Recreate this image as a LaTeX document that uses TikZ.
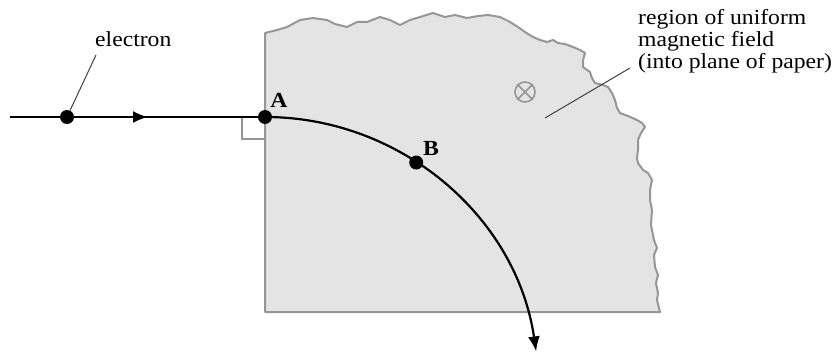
\documentclass[tikz,border=0pt]{standalone}
\usepackage{fontspec}
\setmainfont[FakeStretch=1.1]{Liberation Serif}
\usetikzlibrary{arrows.meta,calc}
\definecolor{edgegray}{RGB}{150,150,150}
\definecolor{fillgray}{RGB}{228,228,228}
\tikzset{
  region/.style={draw=edgegray, fill=fillgray, line width=2pt, line join=round},
  path/.style={line width=2.2pt, black},
  dot/.style={circle, fill=black, inner sep=0pt, minimum size=14pt},
  lbl/.style={font=\fontsize{21.5}{21.5}\selectfont, inner sep=0pt},
  ptlbl/.style={font=\fontsize{21.5}{21.5}\selectfont\bfseries, inner sep=0pt},
  leader/.style={line width=1pt, black!75},
  tip/.style={-{Latex[length=15pt,width=12pt]}}
}
\begin{document}
\begin{tikzpicture}[x=1pt,y=-1pt]
\useasboundingbox (0,0) rectangle (837,353);
% region
\draw[region] (265,312) -- (265,33) -- (277,30) -- (287,27) -- (300,20) -- (313,18) -- (327,20) -- (335,24) -- (347,27) -- (357,22) -- (367,22) -- (380,17) -- (390,20) -- (400,25) -- (410,20) -- (420,17) -- (433,13) -- (445,17) -- (455,15) -- (467,18) -- (478,16) -- (488,15) -- (500,17) -- (510,22) -- (518,27) -- (525,32) -- (533,37) -- (540,40) -- (547,42) -- (553,40) -- (558,43) -- (565,44) -- (573,47) -- (580,50) -- (585,53) -- (583,60) -- (583,67) -- (590,72) -- (592,78) -- (595,83) -- (603,85) -- (608,87) -- (612,93) -- (615,100) -- (617,108) -- (620,113) -- (628,116) -- (637,120) -- (642,123) -- (645,127) -- (641,133) -- (638,140) -- (638,150) -- (637,158) -- (638,163) -- (643,170) -- (648,173) -- (652,180) -- (650,190) -- (650,200) -- (652,210) -- (651,225) -- (654,240) -- (657,248) -- (654,255) -- (655,267) -- (658,275) -- (656,283) -- (658,293) -- (657,300) -- (660,312) -- cycle;
% field symbol
\node[circle, draw=edgegray, line width=1.6pt, minimum size=20pt, inner sep=0pt] (field) at (525,92) {};
\draw[edgegray, line width=1.6pt] (field.north east) -- (field.south west) (field.north west) -- (field.south east);
% right angle marker
\coordinate (ra1) at (265,139);
\coordinate (ra2) at (242,139);
\coordinate (ra3) at (242,117);
\draw[edgegray, line width=1.3pt] (ra1) -- (ra2) -- (ra3);
% trajectory
\coordinate (start) at (10,117);
\coordinate (mid) at (148,117);
\coordinate (Apt) at (265,117);
\coordinate (Ctr) at (265,391);
\draw[path] (start) -- (Apt);
\draw[path, tip] (start) -- (mid);
\draw[path, tip] (Apt) arc[start angle=-90, end angle=-8.3, radius=274];
\coordinate (Bpt) at ($(Ctr)+(-56.5:274)$);
% dots
\node[dot] (e) at (67,117) {};
\node[dot] (A) at (Apt) {};
\node[dot] (B) at (Bpt) {};
% labels
\node[ptlbl] (Alab) at (279,100) {A};
\node[ptlbl] (Blab) at (431,148) {B};
\node[lbl, anchor=base west] (elab) at (95,47) {electron};
\coordinate (el1) at (96,55);
\draw[leader] (el1) -- (e);
\node[lbl, anchor=base west] (rlab) at (638,25) {\begin{tabular}[t]{@{}l@{}}region of uniform\\magnetic field\\(into plane of paper)\end{tabular}};
\coordinate (rl1) at (630,68);
\coordinate (rl2) at (545,118);
\draw[leader] (rl1) -- (rl2);
\end{tikzpicture}
\end{document}
